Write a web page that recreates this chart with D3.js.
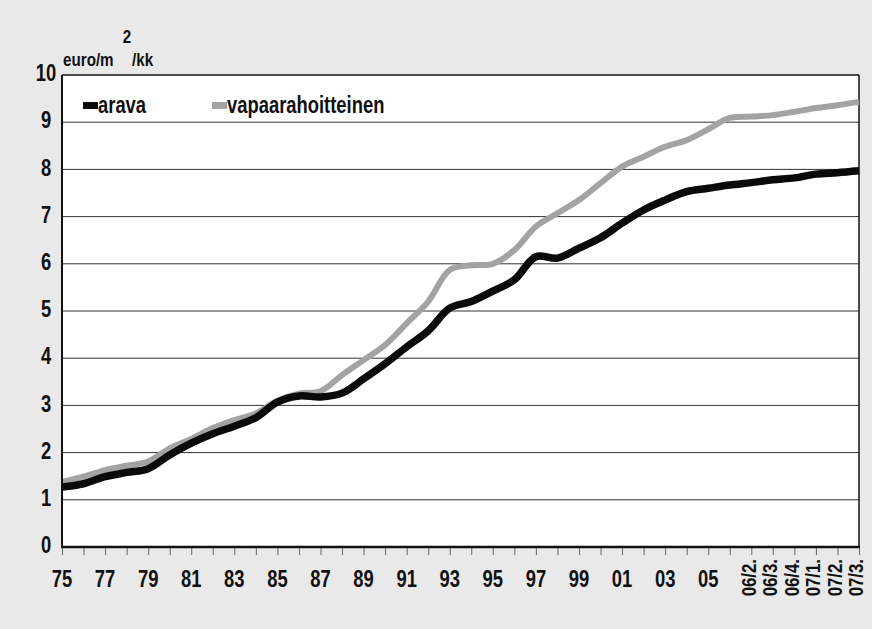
<!DOCTYPE html>
<html>
<head>
<meta charset="utf-8">
<script src="https://cdn.jsdelivr.net/npm/d3@7"></script>
<style>
  body { margin: 0; background: #e9e9e9; }
  svg text { font-family: "Liberation Sans", Arial, sans-serif; font-weight: bold; fill: #111; }
</style>
</head>
<body>
<script>
const categories = ["75","76","77","78","79","80","81","82","83","84","85","86","87","88","89","90",
    "91","92","93","94","95","96","97","98","99","00","01","02","03","04","05",
    "06/1.","06/2.","06/3.","06/4.","07/1.","07/2.","07/3."]
const arava = [1.27,1.34,1.49,1.58,1.66,1.95,2.2,2.4,2.56,2.74,3.07,3.2,3.18,3.26,3.56,3.88,
    4.24,4.58,5.06,5.2,5.42,5.66,6.15,6.12,6.33,6.55,6.86,7.14,7.35,7.53,7.6,
    7.67,7.72,7.78,7.82,7.9,7.93,7.97]
const vapaarahoitteinen = [1.38,1.49,1.63,1.72,1.81,2.09,2.29,2.52,2.69,2.83,3.1,3.25,3.3,3.64,3.96,4.28,
    4.74,5.2,5.87,5.97,6.0,6.29,6.79,7.07,7.35,7.71,8.06,8.27,8.48,8.62,8.85,
    9.09,9.12,9.15,9.22,9.3,9.36,9.43]
const shownLabels = ["75","77","79","81","83","85","87","89","91","93","95","97","99","01","03","05"]
const rotatedLabels = ["06/2.","06/3.","06/4.","07/1.","07/2.","07/3."]
const yTicks = [0,1,2,3,4,5,6,7,8,9,10]

const w = 872
const h = 629
const pLeft = 62, pRight = 859, pTop = 75, pBottom = 547
const sx = 0.8  // squeeze the font to look condensed

const xScale = d3.scalePoint()
                 .domain(categories)
                 .range([pLeft, pRight])
const yScale = d3.scaleLinear()
                 .domain([0, 10])
                 .range([pBottom, pTop])

const svg = d3.select("body")
              .append("svg")
              .attr("width", w)
              .attr("height", h)

svg.append("rect")
   .attr("x", pLeft)
   .attr("y", pTop)
   .attr("width", pRight - pLeft)
   .attr("height", pBottom - pTop)
   .attr("fill", "#fff")

// gridlines
svg.append("g")
   .selectAll("line")
   .data(yTicks.slice(1))
   .enter()
   .append("line")
   .attr("x1", pLeft)
   .attr("x2", pRight)
   .attr("y1", (d) => yScale(d))
   .attr("y2", (d) => yScale(d))
   .attr("stroke", (d) => d === 10 ? "#111" : "#333")
   .attr("stroke-width", (d) => d === 10 ? 1.5 : 1)

svg.append("line")
   .attr("x1", pRight).attr("x2", pRight)
   .attr("y1", pTop).attr("y2", pBottom)
   .attr("stroke", "#111")
   .attr("stroke-width", 1.5)

const line = (vals) => d3.line()
                         .x((d, i) => xScale(categories[i]))
                         .y((d) => yScale(d))
                         .curve(d3.curveCatmullRom.alpha(0.5))(vals)

svg.append("path")
   .attr("d", line(vapaarahoitteinen))
   .attr("fill", "none")
   .attr("stroke", "#a3a3a3")
   .attr("stroke-width", 6)

svg.append("path")
   .attr("d", line(arava))
   .attr("fill", "none")
   .attr("stroke", "#0a0a0a")
   .attr("stroke-width", 7.5)

// x axis
const xAxis = d3.axisBottom(xScale)
                .tickSize(8)
                .tickFormat("")
svg.append("g")
   .attr("transform", "translate(0, " + pBottom + ")")
   .call(xAxis)
   .call((g) => g.select(".domain").remove())
   .call((g) => g.selectAll(".tick line").attr("stroke", "#666"))

svg.append("line")
   .attr("x1", pLeft - 1).attr("x2", pRight + 1)
   .attr("y1", pBottom).attr("y2", pBottom)
   .attr("stroke", "#111")
   .attr("stroke-width", 2.5)

svg.append("line")
   .attr("x1", pLeft).attr("x2", pLeft)
   .attr("y1", pTop).attr("y2", pBottom)
   .attr("stroke", "#111")
   .attr("stroke-width", 2)

svg.append("g")
   .selectAll("text")
   .data(shownLabels)
   .enter()
   .append("text")
   .attr("transform", (d) => "translate(" + xScale(d) + ", 587) scale(" + sx + ", 1)")
   .attr("text-anchor", "middle")
   .attr("font-size", 23)
   .text((d) => d)

svg.append("g")
   .selectAll("text")
   .data(rotatedLabels)
   .enter()
   .append("text")
   .attr("transform", (d) => "translate(" + (xScale(d) - 3) + ", 559) rotate(-90) scale(" + sx + ", 1)")
   .attr("dy", "0.35em")
   .attr("text-anchor", "end")
   .attr("font-size", 21)
   .text((d) => d)

// y labels
svg.append("g")
   .selectAll("text")
   .data(yTicks)
   .enter()
   .append("text")
   .attr("transform", (d) => "translate(46, " + (yScale(d) - 2) + ") scale(" + sx + ", 1)")
   .attr("dy", "0.36em")
   .attr("text-anchor", "middle")
   .attr("font-size", 23)
   .text((d) => d)

const unit = [{t: "euro/m", x: 63, y: 66, a: "start"},
              {t: "/kk", x: 132, y: 66, a: "start"},
              {t: "2", x: 127, y: 43, a: "middle"}]
svg.append("g")
   .selectAll("text")
   .data(unit)
   .enter()
   .append("text")
   .attr("transform", (d) => "translate(" + d.x + ", " + d.y + ") scale(" + sx + ", 1)")
   .attr("text-anchor", (d) => d.a)
   .attr("font-size", 19)
   .text((d) => d.t)

// legend
const legend = [{name: "arava", color: "#0a0a0a", x: 83},
                {name: "vapaarahoitteinen", color: "#a3a3a3", x: 212}]
const lg = svg.append("g")
              .selectAll("g")
              .data(legend)
              .enter()
              .append("g")
lg.append("rect")
  .attr("x", (d) => d.x)
  .attr("y", 102)
  .attr("width", 15)
  .attr("height", 7)
  .attr("fill", (d) => d.color)
lg.append("text")
  .attr("transform", (d) => "translate(" + (d.x + 15) + ", 113) scale(" + sx + ", 1)")
  .attr("font-size", 23)
  .text((d) => d.name)
</script>
</body>
</html>
